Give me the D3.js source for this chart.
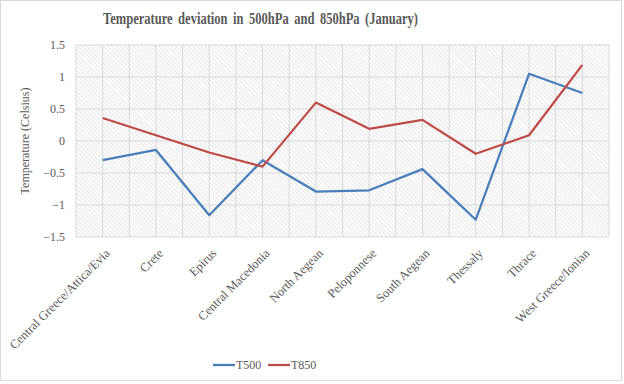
<!DOCTYPE html>
<html>
<head>
<meta charset="utf-8">
<script src="https://cdn.jsdelivr.net/npm/d3@7"></script>
<style>
  body { margin: 0; background: #fff; }
  text { font-family: "Liberation Serif", "Times New Roman", serif; fill: #595959; }
</style>
</head>
<body>
<svg id="chart"></svg>
<script>
// data
const regions = ["Central Greece/Attica/Evia", "Crete", "Epirus", "Central Macedonia", "North Aegean",
  "Peloponnese", "South Aegean", "Thessaly", "Thrace", "West Greece/Ionian"];
const t500 = [-0.30, -0.14, -1.16, -0.30, -0.79, -0.77, -0.44, -1.23, 1.05, 0.75];
const t850 = [0.36, 0.09, -0.18, -0.40, 0.60, 0.19, 0.33, -0.20, 0.09, 1.19];
const yTicks = [-1.5, -1, -0.5, 0, 0.5, 1, 1.5];
const seriesNames = ["T500", "T850"];
const colors = ["#4a7ebb", "#be4b48"];

const W = 624, H = 384;
const margin = { top: 45, right: 15, bottom: 147, left: 76 };
const width = W - margin.left - margin.right;
const height = H - margin.top - margin.bottom;

const svg = d3.select("#chart").attr("width", W).attr("height", H);

// hatch fill of the plot area
const defs = svg.append("defs");
defs.append("pattern")
  .attr("id", "hatch")
  .attr("patternUnits", "userSpaceOnUse")
  .attr("width", 3).attr("height", 3)
  .attr("patternTransform", "rotate(-45)")
  .append("line")
    .attr("x1", 0).attr("y1", 0).attr("x2", 0).attr("y2", 3)
    .attr("stroke", "#cccccc").attr("stroke-width", 1);

// outer frame
svg.append("rect")
  .attr("x", 0.5).attr("y", 0.5)
  .attr("width", W - 3).attr("height", H - 4)
  .attr("fill", "#fff").attr("stroke", "#d9d9d9");

svg.append("text")
  .attr("x", 103).attr("y", 24)
  .attr("font-weight", "bold")
  .attr("textLength", 315)
  .attr("lengthAdjust", "spacingAndGlyphs")
  .style("font-size", "16px")
  .style("word-spacing", "3px")
  .text("Temperature deviation in 500hPa and 850hPa (January)");

const chart = svg.append("g")
  .attr("transform", `translate(${margin.left},${margin.top})`);

const x = d3.scaleBand().domain(regions).range([0, width]);
const y = d3.scaleLinear().domain([-1.5, 1.5]).range([height, 0]);

chart.append("rect")
  .attr("width", width).attr("height", height)
  .attr("fill", "url(#hatch)");

// vertical grid every half category
const vLines = d3.range(0, regions.length * 2 + 1).map(i => i * x.bandwidth() / 2);
chart.selectAll(".vgrid")
  .data(vLines)
  .join("line")
    .attr("class", "vgrid")
    .attr("x1", d => d).attr("x2", d => d)
    .attr("y1", 0).attr("y2", height)
    .attr("stroke", "#d9d9d9");

chart.selectAll(".hgrid")
  .data(yTicks)
  .join("line")
    .attr("class", "hgrid")
    .attr("x1", 0).attr("x2", width)
    .attr("y1", d => y(d)).attr("y2", d => y(d))
    .attr("stroke", "#d9d9d9");

// y axis labels
const yAxis = d3.axisLeft(y).tickValues(yTicks).tickSize(0).tickPadding(11)
  .tickFormat(d => d3.format("")(d));
chart.append("g").call(yAxis)
  .attr("font-family", null)
  .call(g => g.select(".domain").remove())
  .selectAll("text")
    .style("font-size", "12px")
    .style("font-family", "'Liberation Serif', serif")
    .attr("fill", "#595959");

svg.append("text")
  .attr("transform", "rotate(-90)")
  .attr("x", -(margin.top + height / 2)).attr("y", 29)
  .attr("text-anchor", "middle")
  .style("font-size", "12px")
  .text("Temperature (Celsius)");

// x labels
chart.selectAll(".xlab")
  .data(regions)
  .join("text")
    .attr("class", "xlab")
    .attr("text-anchor", "end")
    .style("font-size", "12.5px")
    .attr("transform", d => `translate(${x(d) + x.bandwidth() / 2 + 8},${height + 17}) rotate(-45)`)
    .text(d => d);

// lines
const line = d3.line()
  .x((d, i) => x(regions[i]) + x.bandwidth() / 2)
  .y(d => y(d));

[t500, t850].forEach((s, k) => {
  chart.append("path")
    .datum(s)
    .attr("fill", "none")
    .attr("stroke", colors[k])
    .attr("stroke-width", 2.25)
    .attr("stroke-linejoin", "round")
    .attr("d", line);
});

// legend
const legend = svg.append("g").attr("transform", "translate(213,365)");
seriesNames.forEach((n, k) => {
  const g = legend.append("g").attr("transform", `translate(${k * 55},0)`);
  g.append("line").attr("x1", 0).attr("x2", 22).attr("y1", 0).attr("y2", 0)
    .attr("stroke", colors[k]).attr("stroke-width", 2.25);
  g.append("text").attr("x", 23).attr("y", 4).style("font-size", "12px").text(n);
});
</script>
</body>
</html>
